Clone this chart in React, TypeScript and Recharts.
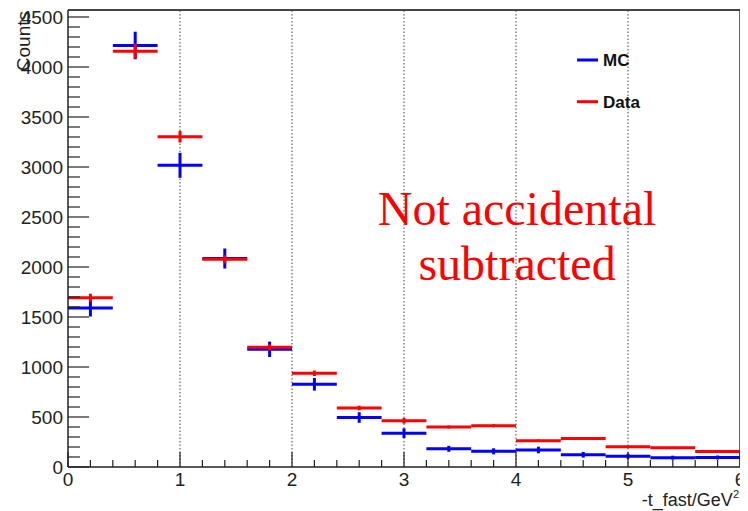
import React from 'react';
import {
  ScatterChart,
  Scatter,
  XAxis,
  YAxis,
  ErrorBar,
  ReferenceLine,
  Legend,
  Customized,
} from 'recharts';

// ---------- data ----------
const binCenters = [0.2, 0.6, 1.0, 1.4, 1.8, 2.2, 2.6, 3.0, 3.4, 3.8, 4.2, 4.6, 5.0, 5.4, 5.8];
const binHalfWidth = 0.2;
const mcCounts = [1590, 4215, 3017, 2085, 1177, 827, 495, 338, 182, 157, 170, 122, 108, 93, 95];
const mcErrors = [85, 138, 125, 100, 77, 63, 53, 48, 30, 30, 33, 28, 25, 20, 20];
const dataCounts = [1693, 4158, 3303, 2077, 1197, 937, 590, 462, 400, 413, 263, 285, 203, 192, 155];
const dataErrors = [40, 75, 58, 40, 30, 28, 23, 28, 15, 15, 12, 12, 10, 10, 10];

const seriesNames = ['MC', 'Data'];
const seriesColors = ['#0000ff', '#ff0000'];

const xMajorTicks = [0, 1, 2, 3, 4, 5, 6];
const yMajorTicks = [0, 500, 1000, 1500, 2000, 2500, 3000, 3500, 4000, 4500];
const gridXs = [1, 2, 3, 4, 5];
const X_MIN = 0;
const X_MAX = 6;
const Y_MAX = 4570;
const xTitle = '-t_fast/GeV';
const xTitleSup = '2';
const yTitle = 'Counts';
const noteLines = ['Not accidental', 'subtracted'];

// build tables
const mcData = binCenters.map((x, i) => ({ x, y: mcCounts[i], ex: binHalfWidth, ey: mcErrors[i] }));
const dataData = binCenters.map((x, i) => ({ x, y: dataCounts[i], ex: binHalfWidth, ey: dataErrors[i] }));

const xTicks: number[] = [];
for (let i = 0; i <= 30; i++) xTicks.push(Math.round(i * 2) / 10);
const yTicks: number[] = [];
for (let v = 0; v <= 4500; v += 100) yTicks.push(v);

// ---------- styles ----------
const FONT = '"Liberation Sans", Arial, Helvetica, sans-serif';
const AXIS_COLOR = '#222';
const TICK_MARGIN_Y = 5;
const TICK_MARGIN_X = 6;

const YTick = (props: any) => {
  const { x, y, payload } = props;
  const v = payload.value;
  const axisX = x + TICK_MARGIN_Y;
  const major = yMajorTicks.includes(v);
  return (
    <g>
      <line x1={axisX} x2={axisX + (major ? 21 : 12)} y1={y} y2={y} stroke={AXIS_COLOR} strokeWidth={1.2} />
      {major && (
        <text x={x} y={y} textAnchor="end" dy="0.36em" fontSize={19} fill={AXIS_COLOR} fontFamily={FONT}>
          {v}
        </text>
      )}
    </g>
  );
};

const XTick = (props: any) => {
  const { x, y, payload } = props;
  const v = payload.value;
  const axisY = y - TICK_MARGIN_X;
  const major = xMajorTicks.includes(v);
  return (
    <g>
      <line x1={x} x2={x} y1={axisY} y2={axisY - (major ? 15 : 7)} stroke={AXIS_COLOR} strokeWidth={1.2} />
      {major && (
        <text x={x} y={y} textAnchor="middle" dy="0.71em" fontSize={19} fill={AXIS_COLOR} fontFamily={FONT}>
          {v}
        </text>
      )}
    </g>
  );
};

const XTitle = (props: any) => {
  const vb = props.viewBox || { x: 60, y: 459, width: 672, height: 44 };
  const x = vb.x + vb.width - 1;
  const y = vb.y + 39;
  return (
    <text x={x} y={y} textAnchor="end" fontSize={18} fill={AXIS_COLOR} fontFamily={FONT}>
      {xTitle}
      <tspan fontSize={11} dy={-8}>{xTitleSup}</tspan>
    </text>
  );
};

const YTitle = (props: any) => {
  const vb = props.viewBox || { x: 0, y: 2, width: 60, height: 457 };
  const x = vb.x + 22;
  const y = vb.y + 1;
  return (
    <text
      x={x}
      y={y}
      textAnchor="end"
      fontSize={19}
      fill={AXIS_COLOR}
      fontFamily={FONT}
      transform={`rotate(-90, ${x}, ${y})`}
    >
      {yTitle}
    </text>
  );
};

const LegendContent = () => (
  <svg width={110} height={70} style={{ overflow: 'visible' }}>
    {seriesNames.map((name, i) => (
      <g key={name}>
        <line x1={0} x2={21} y1={10 + i * 41.7} y2={10 + i * 41.7} stroke={seriesColors[i]} strokeWidth={3} />
        <text
          x={26}
          y={10 + i * 41.7}
          dy="0.36em"
          fontSize={17}
          fontWeight="bold"
          fill="#111"
          fontFamily={FONT}
        >
          {name}
        </text>
      </g>
    ))}
  </svg>
);

const Note = () => (
  <g>
    {noteLines.map((t, i) => (
      <text
        key={t}
        x={509}
        y={217 + i * 55}
        textAnchor="middle"
        fontSize={48}
        fill="#ff0000"
        fontFamily='"Liberation Serif", "Times New Roman", serif'
      >
        {t}
      </text>
    ))}
  </g>
);

const noShape = () => <g />;

export default function App() {
  return (
    <div style={{ width: 740, height: 503, background: '#fff' }}>
      <ScatterChart
        width={740}
        height={503}
        margin={{ top: 2, right: 8, bottom: 0, left: 0 }}
        style={{ fontFamily: FONT }}
      >
        <XAxis
          type="number"
          dataKey="x"
          domain={[X_MIN, X_MAX]}
          ticks={xTicks}
          interval={0}
          tickSize={0}
          tickMargin={TICK_MARGIN_X}
          tickLine={false}
          tick={<XTick />}
          height={44}
          axisLine={{ stroke: AXIS_COLOR, strokeWidth: 1.5 }}
          allowDataOverflow
          label={XTitle}
        />
        <YAxis
          type="number"
          dataKey="y"
          domain={[0, Y_MAX]}
          ticks={yTicks}
          interval={0}
          tickSize={0}
          tickMargin={TICK_MARGIN_Y}
          tickLine={false}
          tick={<YTick />}
          width={60}
          axisLine={{ stroke: AXIS_COLOR, strokeWidth: 1.5 }}
          allowDataOverflow
          label={YTitle}
        />
        {gridXs.map((gx) => (
          <ReferenceLine key={gx} x={gx} stroke="#444" strokeWidth={1} strokeDasharray="1.5 2" />
        ))}
        <ReferenceLine x={X_MAX} stroke="#333" strokeWidth={1.5} />
        <ReferenceLine y={Y_MAX} stroke="#444" strokeWidth={2} />
        <Scatter name={seriesNames[0]} data={mcData} fill={seriesColors[0]} shape={noShape} isAnimationActive={false}>
          <ErrorBar dataKey="ex" direction="x" width={0} stroke={seriesColors[0]} strokeWidth={3} isAnimationActive={false} />
          <ErrorBar dataKey="ey" direction="y" width={0} stroke={seriesColors[0]} strokeWidth={3} isAnimationActive={false} />
        </Scatter>
        <Scatter name={seriesNames[1]} data={dataData} fill={seriesColors[1]} shape={noShape} isAnimationActive={false}>
          <ErrorBar dataKey="ex" direction="x" width={0} stroke={seriesColors[1]} strokeWidth={3} isAnimationActive={false} />
          <ErrorBar dataKey="ey" direction="y" width={0} stroke={seriesColors[1]} strokeWidth={3} isAnimationActive={false} />
        </Scatter>
        <Legend
          layout="vertical"
          align="center"
          verticalAlign="middle"
          content={<LegendContent />}
          wrapperStyle={{ left: 569, top: 42, width: 110, height: 70 }}
        />
        <Customized component={Note} />
      </ScatterChart>
    </div>
  );
}
